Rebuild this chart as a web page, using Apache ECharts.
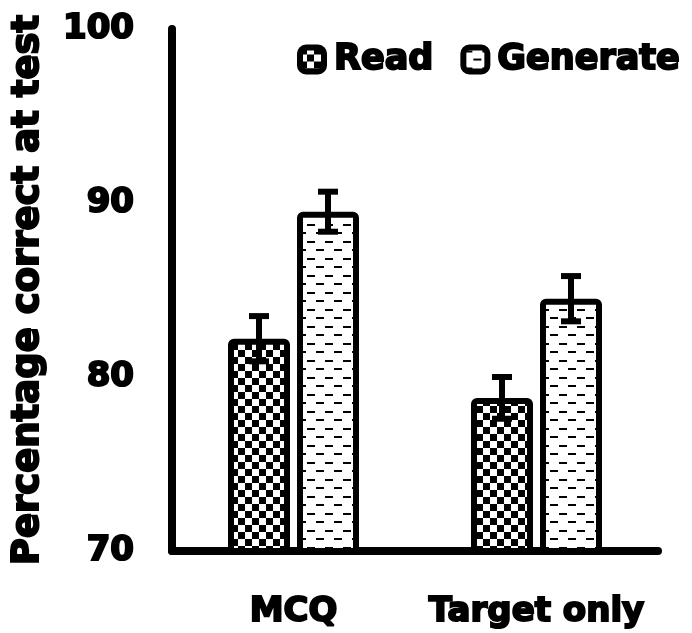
<!DOCTYPE html>
<html><head><meta charset="utf-8">
<script src="https://cdn.jsdelivr.net/npm/echarts@6/dist/echarts.min.js"></script>
<style>html,body{margin:0;padding:0;background:#fff}#c{width:692px;height:633px}</style>
</head><body><div id="c"></div>
<script>
const categories = ['MCQ', 'Target only'];
const seriesNames = ['Read', 'Generate'];
const readValues = [82.2, 78.8];
const readErrors = [1.3, 1.2];
const generateValues = [89.5, 84.5];
const generateErrors = [1.15, 1.3];
const yTicks = [70, 80, 90, 100];

const FONT = '"DejaVu Sans", sans-serif';

function checker() {
  const c = document.createElement('canvas'); c.width = 14; c.height = 14;
  const g = c.getContext('2d');
  g.fillStyle = '#fff'; g.fillRect(0, 0, 14, 14);
  g.fillStyle = '#000'; g.fillRect(0, 0, 7, 7); g.fillRect(7, 7, 7, 7);
  return c;
}
function dashes() {
  const c = document.createElement('canvas'); c.width = 18; c.height = 17;
  const g = c.getContext('2d');
  g.fillStyle = '#fff'; g.fillRect(0, 0, 18, 17);
  g.fillStyle = '#000'; g.fillRect(1, 3, 8, 2); g.fillRect(10, 11, 8, 2);
  return c;
}
const readFill = { image: checker(), repeat: 'repeat' };
const genFill = { image: dashes(), repeat: 'repeat' };

const BAR_W = 62, BAR_GAP_PX = 7;
const barStyle = (fill) => ({ color: fill, borderColor: '#000', borderWidth: 6, borderRadius: 3 });

function errSeries(vals, errs, sign) {
  return {
    type: 'custom', z: 10,
    data: vals.map((v, i) => [i, v - errs[i], v + errs[i]]),
    renderItem: function (params, api) {
      const off = sign * (BAR_W + BAR_GAP_PX) / 2;
      const lo = api.coord([api.value(0), api.value(1)]);
      const hi = api.coord([api.value(0), api.value(2)]);
      const x = lo[0] + off;
      const cw = 20, st = { stroke: '#000', lineWidth: 6 };
      return { type: 'group', children: [
        { type: 'line', shape: { x1: x, y1: lo[1], x2: x, y2: hi[1] }, style: st },
        { type: 'line', shape: { x1: x - cw / 2, y1: lo[1], x2: x + cw / 2, y2: lo[1] }, style: st },
        { type: 'line', shape: { x1: x - cw / 2, y1: hi[1], x2: x + cw / 2, y2: hi[1] }, style: st }
      ]};
    }
  };
}

const chart = echarts.init(document.getElementById('c'), null, { renderer: 'canvas' });
chart.setOption({
  animation: false,
  backgroundColor: '#fff',
  grid: { left: 172, right: 34, top: 29, bottom: 82, containLabel: false, outerBoundsMode: 'none' },
  legend: {
    left: 292, top: 36, itemWidth: 24, itemHeight: 24, itemGap: 26,
    data: [
      { name: 'Read', itemStyle: { color: readFill, borderColor: '#000', borderWidth: 6 } },
      { name: 'Generate', itemStyle: { color: genFill, borderColor: '#000', borderWidth: 6 } }
    ],
    textStyle: { fontFamily: FONT, fontWeight: 'bold', fontSize: 35, color: '#000', textBorderColor: '#000', textBorderWidth: 2, padding: [0, 0, 0, 5] }
  },
  xAxis: {
    type: 'category', data: categories,
    axisLine: { lineStyle: { color: '#000', width: 8 } },
    axisTick: { show: false },
    axisLabel: { interval: 0, margin: 44, fontFamily: FONT, fontWeight: 'bold', fontSize: 34, color: '#000', textBorderColor: '#000', textBorderWidth: 2 }
  },
  yAxis: {
    type: 'value', min: yTicks[0], max: yTicks[yTicks.length - 1], interval: 10,
    name: 'Percentage correct at test', nameLocation: 'middle', nameGap: 125, nameRotate: 90,
    nameTextStyle: { fontFamily: FONT, fontWeight: 'bold', fontSize: 37, color: '#000', textBorderColor: '#000', textBorderWidth: 2 },
    axisLine: { show: true, lineStyle: { color: '#000', width: 8 } },
    axisTick: { show: false },
    splitLine: { show: false },
    axisLabel: { margin: 38, fontFamily: FONT, fontWeight: 'bold', fontSize: 34, color: '#000', textBorderColor: '#000', textBorderWidth: 2 }
  },
  series: [
    { name: seriesNames[0], type: 'bar', data: readValues, barWidth: BAR_W, barGap: (BAR_GAP_PX / BAR_W * 100) + '%', itemStyle: barStyle(readFill) },
    { name: seriesNames[1], type: 'bar', data: generateValues, barWidth: BAR_W, itemStyle: barStyle(genFill) },
    errSeries(readValues, readErrors, -1),
    errSeries(generateValues, generateErrors, 1)
  ]
});
</script></body></html>
